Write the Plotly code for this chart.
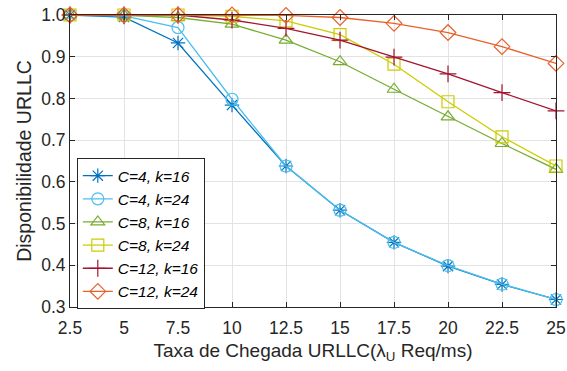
import plotly.graph_objects as go

x = [2.5, 5, 7.5, 10, 12.5, 15, 17.5, 20, 22.5, 25]
x_labels = ["2.5", "5", "7.5", "10", "12.5", "15", "17.5", "20", "22.5", "25"]
y_ticks = [0.3, 0.4, 0.5, 0.6, 0.7, 0.8, 0.9, 1.0]
c4_k16 = [1.0, 0.995, 0.933, 0.784, 0.638, 0.532, 0.455, 0.398, 0.354, 0.318]
c4_k24 = [1.0, 0.998, 0.970, 0.798, 0.638, 0.532, 0.455, 0.399, 0.355, 0.318]
c8_k16 = [1.0, 0.999, 0.994, 0.978, 0.940, 0.888, 0.822, 0.756, 0.692, 0.630]
c8_k24 = [1.0, 1.0, 1.0, 0.997, 0.986, 0.953, 0.882, 0.792, 0.708, 0.638]
c12_k16 = [1.0, 1.0, 1.0, 0.988, 0.968, 0.940, 0.899, 0.859, 0.814, 0.770]
c12_k24 = [1.0, 1.0, 1.0, 1.0, 0.999, 0.994, 0.980, 0.958, 0.924, 0.884]

names = ["C=4, k=16", "C=4, k=24", "C=8, k=16", "C=8, k=24", "C=12, k=16", "C=12, k=24"]
colors = ["#0072BD", "#4DBEEE", "#77AC30", "#CCCC00", "#A2142F", "#E8602A"]
symbols = ["asterisk-open", "circle-open", "triangle-up-open", "square-open", "cross-thin-open", "diamond-open"]
series = [c4_k16, c4_k24, c8_k16, c8_k24, c12_k16, c12_k24]

fig = go.Figure()
for n, c, s, y in zip(names, colors, symbols, series):
    fig.add_trace(go.Scatter(
        x=x, y=y, mode="lines+markers", name="<i>" + n + "</i>",
        line=dict(color=c, width=1.3),
        marker=dict(symbol=s, size=12, color=c, line=dict(color=c, width=1.2)),
        cliponaxis=False,
    ))

axis_common = dict(
    showline=True, linecolor="#262626", linewidth=1, mirror="ticks",
    ticks="inside", ticklen=5, tickcolor="#262626",
    showgrid=True, gridcolor="#E3E3E3", gridwidth=1,
    zeroline=False, tickfont=dict(size=17.5, color="#262626"),
    automargin=False, ticklabeloverflow="allow",
)

fig.update_layout(
    width=567, height=371,
    margin=dict(l=70, r=11, t=15, b=64),
    plot_bgcolor="white", paper_bgcolor="white",
    font=dict(family="Liberation Sans, Arial, sans-serif", color="#262626"),
    xaxis=dict(range=[2.5, 25], tickvals=x, ticktext=x_labels, ticklabelstandoff=5,
               title=dict(text="Taxa de Chegada URLLC(λ<sub>U</sub> Req/ms)", font=dict(size=19), standoff=6),
               **axis_common),
    yaxis=dict(range=[0.3, 1.0], tickvals=y_ticks, tickformat=".1f",
               title=dict(text="Disponibilidade URLLC", font=dict(size=19.5), standoff=4),
               **axis_common),
    legend=dict(x=0.014, y=0.51, xanchor="left", yanchor="top",
                bordercolor="#262626", borderwidth=1, bgcolor="white",
                font=dict(size=15.5, color="black"), tracegroupgap=0, itemwidth=30),
    showlegend=True,
)

# remove the default 8px page margin so the 567x371 figure fills the window exactly
fig.write_html("out.html", config={"displayModeBar": False},
               post_script="document.body.style.margin='0';document.body.style.overflow='hidden';")
